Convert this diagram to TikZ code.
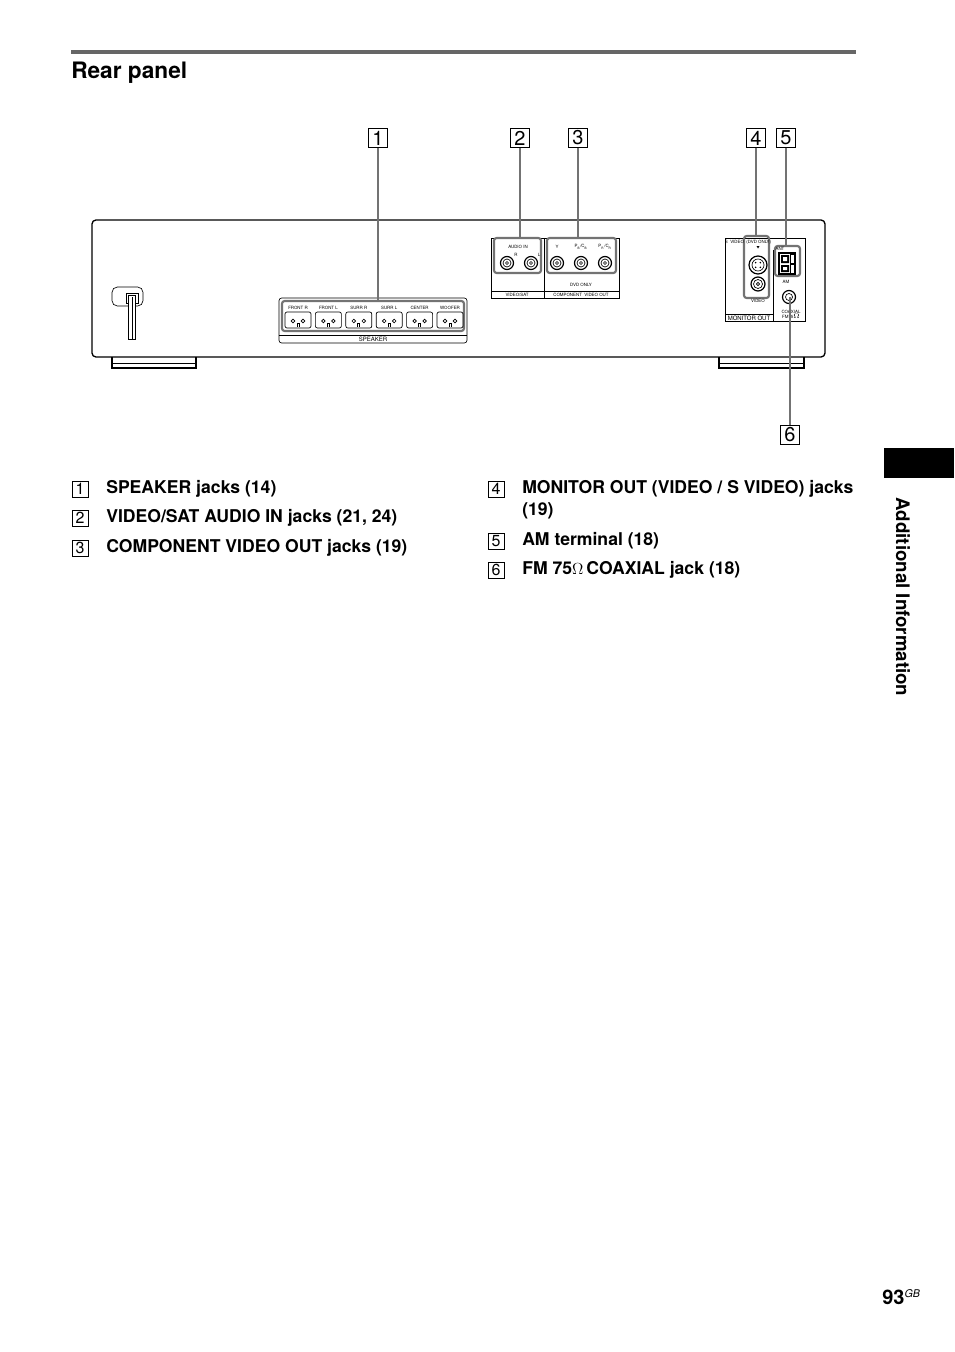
\documentclass[tikz,border=0pt]{standalone}
\usepackage{fontspec}
\setmainfont{TeX Gyre Heros}
\begin{document}
\begin{tikzpicture}[x=0.75pt,y=-0.75pt,
  lead/.style={draw=black!55,line width=2.2pt},
  gbox/.style={draw=black!55,line width=1.6pt,rounded corners=2pt},
  thin/.style={draw=black,line width=0.5pt},
  body/.style={draw=black,line width=1pt},
  numbox/.style={draw,line width=0.6pt,minimum size=14pt,inner sep=0pt,font=\fontsize{15}{15}\selectfont},
  tiny/.style={font=\fontsize{3.3}{3.5}\selectfont,inner sep=0pt},
  small/.style={font=\fontsize{4.5}{5}\selectfont,inner sep=0pt},
  item/.style={anchor=west,font=\fontsize{13.2}{16}\selectfont\bfseries,inner sep=0pt}]
\useasboundingbox (0,0) rectangle (954,1352);
% header
\draw[black!60,line width=3pt] (71,52) -- (856,52);
\node[anchor=west,inner sep=0pt,font=\fontsize{17}{17}\selectfont\bfseries] (title) at (71,73) {Rear panel};
\fill (884,448) rectangle (954,478);
\node[rotate=-90,inner sep=0pt,font=\fontsize{14}{14}\selectfont\bfseries] (side) at (903,597) {Additional Information};
\node[anchor=west,inner sep=0pt,font=\fontsize{15}{15}\selectfont\bfseries] (pg) at (882,1297) {93\raisebox{5pt}{\fontsize{8}{8}\selectfont\mdseries\itshape GB}};
% body
\draw[body,rounded corners=3pt] (92,220) rectangle (825,357);
\draw[body] (112,357) -- (112,368) -- (196,368) -- (196,357);
\draw[body] (719,357) -- (719,368) -- (804,368) -- (804,357);
\draw[thin] (112,363) -- (196,363) (719,363) -- (804,363);
% power cord
\draw[thin,rounded corners=4pt] (112,287) rectangle (143,306);
\draw[thin] (126,293) rectangle (138,303);
\draw[thin,fill=white] (128.5,295) rectangle (135.5,339);
\draw[thin] (132,297) -- (132,339);
% speaker block
\draw[thin,rounded corners=2pt] (279,298) rectangle (467,343);
\draw[thin] (279,335) -- (467,335);
\draw[gbox] (282,301) rectangle (464,331);
\node[small] (spk) at (373,339) {SPEAKER};
\foreach \i/\t in {0/FRONT R,1/FRONT L,2/SURR R,3/SURR L,4/CENTER,5/WOOFER}{
  \pgfmathsetmacro{\cx}{298+\i*30.4}
  \node[tiny] at (\cx,307.5) {\t};
  \draw[thin,rounded corners=1.5pt] (\cx-13,312) rectangle (\cx+13,328);
  \draw[thin] (\cx-5,321) circle (1.8) (\cx+5,321) circle (1.8);
  \draw[thin] (\cx-1,327) -- (\cx-1,323) -- (\cx+1,323) -- (\cx+1,327);
}
% video area
\draw[thin] (491,238) rectangle (619,298);
\draw[thin] (544,238) -- (544,298) (491,291) -- (619,291);
\draw[gbox] (494,238) rectangle (541,273);
\draw[gbox] (547,238) rectangle (616,273);
\node[tiny] at (518,247) {AUDIO IN};
\node[tiny] at (516,255) {R};
\node[tiny] at (539,255) {L};
\node[tiny] at (557,247) {Y};
\node[tiny] at (581,247) {P\textsubscript{B}/C\textsubscript{B}};
\node[tiny] at (605,247) {P\textsubscript{R}/C\textsubscript{R}};
\node[tiny] at (581,285) {DVD ONLY};
\node[tiny] at (517,294.5) {VIDEO/SAT};
\node[tiny] at (581,294.5) {COMPONENT\ \ VIDEO OUT};
\foreach \x in {507,531,557,581,605}{
  \draw[line width=0.9pt] (\x,263) circle (6.5);
  \draw[thin] (\x,263) circle (4);
  \draw[thin] (\x,263) circle (1.5);
}
% monitor area
\draw[thin] (725,238) rectangle (805,321);
\draw[thin] (773,250) -- (773,321) (725,314) -- (773,314);
\draw[gbox] (744,236) rectangle (769,298);
\node[tiny] at (748,242) {S\ \ VIDEO\ \ (DVD ONLY)};
\fill (756.5,246) -- (759.5,246) -- (758,248.5) -- cycle;
\draw[line width=0.9pt] (758,265) circle (9);
\draw[thin] (758,265) circle (6);
\foreach \a in {45,135,225,315} \fill (758,265) ++(\a:3.3) circle (0.9);
\draw[line width=0.9pt] (758,284) circle (7);
\draw[thin] (758,284) circle (4.5);
\draw[thin] (758,284) circle (1.6);
\node[tiny] at (758,300.5) {VIDEO};
\node[small] at (749,318) {MONITOR OUT};
\draw[gbox] (775,246) rectangle (800,276);
\node[tiny] at (780,249) {ANT};
\draw[line width=0.8pt] (779,253) rectangle (795,274);
\fill (781,255) rectangle (789,263) (781,265) rectangle (789,272);
\fill[white] (783,257) rectangle (787,261) (783,267) rectangle (787,270);
\draw[thin] (790,254) rectangle (794,263) (790,264) rectangle (794,273);
\node[tiny] at (786,282) {AM};
\draw[line width=0.9pt] (789,297) circle (6.5);
\draw[thin] (789,297) circle (3.5);
\node[tiny] at (791,312) {COAXIAL};
\node[tiny] at (791,316.5) {FM75$\Omega$};
% number boxes
\node[numbox] (n1) at (378,138) {1};
\node[numbox] (n2) at (520,138) {2};
\node[numbox] (n3) at (578,138) {3};
\node[numbox] (n4) at (756,138) {4};
\node[numbox] (n5) at (786,138) {5};
\node[numbox] (n6) at (790,435) {6};
\coordinate (c1) at (378,301);
\coordinate (c2) at (520,238);
\coordinate (c3) at (578,238);
\coordinate (c4) at (756,236);
\coordinate (c5) at (786,246);
\coordinate (c6) at (790,297);
\draw[lead] (n1) -- (c1);
\draw[lead] (n2) -- (c2);
\draw[lead] (n3) -- (c3);
\draw[lead] (n4) -- (c4);
\draw[lead] (n5) -- (c5);
\draw[lead] (n6) -- (c6);
% list
\tikzset{lnum/.style={draw,line width=0.5pt,minimum size=12pt,inner sep=0pt,font=\fontsize{12}{12}\selectfont}}
\node[lnum] (l1) at (80,489) {1};
\node[item] (t1) at (106,489) {SPEAKER jacks (14)};
\node[lnum] (l2) at (80,518) {2};
\node[item] (t2) at (106,518) {VIDEO/SAT AUDIO IN jacks (21, 24)};
\node[lnum] (l3) at (80,548) {3};
\node[item] (t3) at (106,548) {COMPONENT VIDEO OUT jacks (19)};
\node[lnum] (l4) at (496,489) {4};
\node[item] (t4) at (522,489) {MONITOR OUT (VIDEO / S VIDEO) jacks};
\node[item] (t4b) at (522,511) {(19)};
\node[lnum] (l5) at (496,541) {5};
\node[item] (t5) at (522,541) {AM terminal (18)};
\node[lnum] (l6) at (496,570) {6};
\node[item] (t6) at (522,570) {FM 75$\Omega$\,COAXIAL jack (18)};
\end{tikzpicture}
\end{document}
